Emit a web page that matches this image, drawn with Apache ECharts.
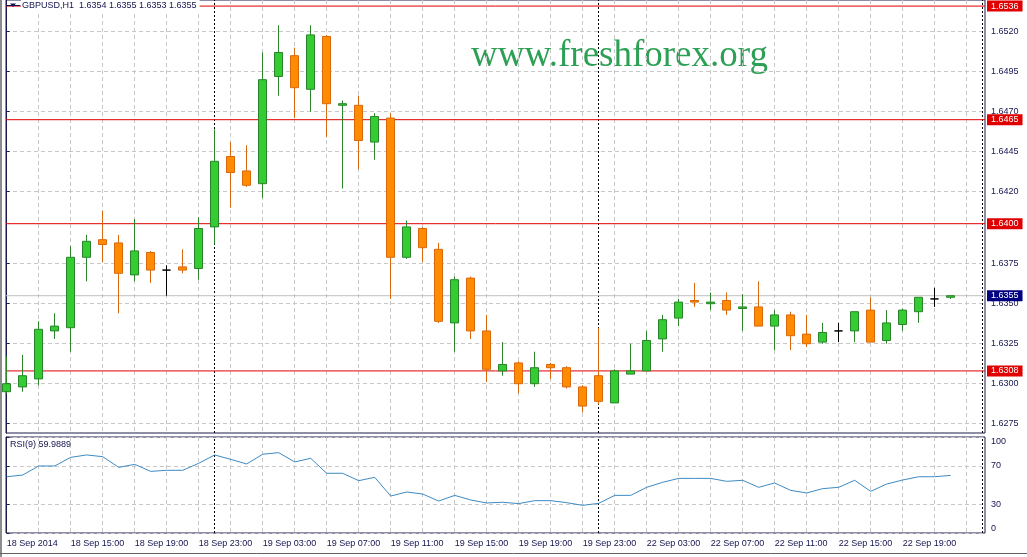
<!DOCTYPE html>
<html><head><meta charset="utf-8">
<script src="https://cdn.jsdelivr.net/npm/echarts@6.0.0/dist/echarts.min.js"></script>
<style>html,body{margin:0;padding:0;background:#fff}#c{width:1027px;height:557px}</style>
</head><body><div id="c"></div>
<script>
// ---- data (GBPUSD H1, bars 18 Sep 11:00 .. 22 Sep 22:00) ----
const opens  = [1.6295,1.6298,1.6303,1.6333,1.6335,1.6379,1.6390,1.6388,1.6368,1.6382,
                1.6371,1.6373,1.6372,1.6398,1.6442,1.6433,1.6425,1.6492,1.6505,1.6484,
                1.6517,1.6474,1.6474,1.6451,1.6466,1.6379,1.6397,1.6384,1.6338,1.6366,
                1.6333,1.6308,1.6313,1.6300,1.6312,1.6310,1.6298,1.6305,1.6288,1.6306,
                1.6308,1.6328,1.6341,1.6352,1.6350,1.6352,1.6347,1.6348,1.6336,1.6343,
                1.6331,1.6326,1.6333,1.6333,1.6346,1.6327,1.6337,1.6345,1.6353,1.6354];
const highs  = [1.6317,1.6318,1.6339,1.6344,1.6386,1.6393,1.6408,1.6393,1.6403,1.6383,
                1.6374,1.6384,1.6404,1.6459,1.6451,1.6449,1.6507,1.6524,1.6510,1.6524,
                1.6518,1.6477,1.6480,1.6469,1.6469,1.6402,1.6398,1.6388,1.6367,1.6367,
                1.6343,1.6326,1.6314,1.6320,1.6313,1.6311,1.6299,1.6335,1.6309,1.6325,
                1.6333,1.6343,1.6353,1.6363,1.6357,1.6357,1.6356,1.6364,1.6346,1.6345,
                1.6343,1.6338,1.6338,1.6345,1.6354,1.6346,1.6347,1.6354,1.6360,1.6355];
const lows   = [1.6294,1.6295,1.6299,1.6328,1.6320,1.6364,1.6376,1.6344,1.6364,1.6363,
                1.6355,1.6369,1.6365,1.6387,1.6410,1.6423,1.6416,1.6480,1.6466,1.6470,
                1.6454,1.6422,1.6434,1.6440,1.6353,1.6378,1.6376,1.6338,1.6320,1.6328,
                1.6301,1.6305,1.6294,1.6298,1.6303,1.6297,1.6282,1.6287,1.6288,1.6306,
                1.6308,1.6320,1.6336,1.6348,1.6346,1.6343,1.6333,1.6336,1.6321,1.6321,
                1.6323,1.6325,1.6326,1.6326,1.6326,1.6325,1.6333,1.6338,1.6348,1.6353];
const closes = [1.6300,1.6305,1.6334,1.6336,1.6379,1.6389,1.6387,1.6369,1.6383,1.6371,
                1.6371,1.6371,1.6397,1.6439,1.6432,1.6424,1.6490,1.6507,1.6485,1.6518,
                1.6475,1.6475,1.6452,1.6467,1.6379,1.6398,1.6385,1.6339,1.6365,1.6333,
                1.6309,1.6312,1.6300,1.6310,1.6310,1.6298,1.6286,1.6289,1.6308,1.6308,
                1.6327,1.6340,1.6351,1.6351,1.6351,1.6346,1.6348,1.6336,1.6343,1.6330,
                1.6325,1.6332,1.6333,1.6345,1.6326,1.6338,1.6346,1.6354,1.6353,1.6355];
const rsiValues = [58.6,60.4,69.8,69.8,78.8,81.3,79.5,68.4,71.5,64.2,
                   65.3,65.3,72.6,81.3,76.7,71.9,82.0,83.7,74.0,77.8,
                   62.2,62.2,54.5,58.0,38.5,42.7,40.6,33.3,39.2,34.4,
                   31.3,32.0,30.6,33.7,33.7,31.6,28.8,30.9,39.2,39.2,
                   47.6,52.8,56.9,56.9,56.9,53.8,54.9,47.6,52.1,44.4,
                   41.7,46.2,47.6,54.9,43.4,51.0,55.2,58.6,58.6,60.0];
const tickLabels = ['18 Sep 2014','18 Sep 15:00','18 Sep 19:00','18 Sep 23:00','19 Sep 03:00',
                    '19 Sep 07:00','19 Sep 11:00','19 Sep 15:00','19 Sep 19:00','19 Sep 23:00',
                    '22 Sep 03:00','22 Sep 07:00','22 Sep 11:00','22 Sep 15:00','22 Sep 19:00'];
const labelBars = [0,4,8,12,16,20,24,28,32,36,40,44,48,52,56];
const priceTicks = [1.6275,1.6300,1.6325,1.6350,1.6375,1.6420,1.6445,1.6470,1.6495,1.6520];
const rsiTicks = [0,30,70,100];
const levelPrices = [1.6536,1.6465,1.6400,1.6308];
const bidPrice = 1.6355;
const separatorBars = [13,37,61];
const headerText = 'GBPUSD,H1  1.6354 1.6355 1.6353 1.6355';
const rsiText = 'RSI(9) 59.9889';
const watermark = 'www.freshforex.org';

// ---- build ----
const candleData = opens.map((o,i)=>[i,o,closes[i],lows[i],highs[i]]);
const rsiData = rsiValues.map((v,i)=>[i,v]);
const evenBars = []; for (let i=2;i<=60;i+=2) evenBars.push(i);

const FONT='Liberation Sans', TXT='#141450', GRIDC='#c8c8c8', FRAME='#1c1c4c';
const XMIN=-0.04375, XMAX=61.14375;
const dash={color:GRIDC,type:[4,3],width:1};
const sepMark = () => ({silent:true,symbol:['none','none'],z:1,animation:false,precision:4,
          lineStyle:{color:'#000',type:[2,2],width:1}, label:{show:false},
          data:separatorBars.map(b=>({xAxis:b}))});
// horizontal price level drawn as a two-point line series across the x extent
const hLine = (p, lineColor, bg) => ({type:'line',xAxisIndex:0,yAxisIndex:0,z:1,silent:true,
          data:[[XMIN,p],[XMAX,p]], showSymbol:false, symbol:'none',
          lineStyle:{color:lineColor,width:1,type:'solid'}, itemStyle:{color:lineColor},
          emphasis:{disabled:true},
          endLabel:{show:true, distance:2, formatter:()=>p.toFixed(4), color:'#fff', backgroundColor:bg,
                    padding:[1,4,0,4], fontSize:9, fontFamily:FONT, lineHeight:10}});

const chart = echarts.init(document.getElementById('c'));
chart.setOption({
  animation:false, backgroundColor:'#fff',
  grid:[{left:6,right:42,top:0,height:433,show:true,borderColor:FRAME,borderWidth:1},
        {left:6,right:42,top:437,height:96,show:true,borderColor:FRAME,borderWidth:1}],
  xAxis:[
    {type:'value',gridIndex:0,min:XMIN,max:XMAX,axisLine:{show:false},
     axisTick:{show:false,customValues:evenBars},axisLabel:{show:false},splitLine:{show:true,lineStyle:dash}},
    {type:'value',gridIndex:1,min:XMIN,max:XMAX,axisLine:{show:false},
     axisTick:{show:false,customValues:evenBars},
     axisLabel:{customValues:labelBars,formatter:v=>{const k=labelBars.indexOf(Math.round(v));return k<0?'':tickLabels[k];},
                align:'left',margin:6,fontSize:9,fontFamily:FONT,color:TXT},
     splitLine:{show:true,lineStyle:dash}}
  ],
  yAxis:[
    {type:'value',gridIndex:0,position:'right',min:1.62692,max:1.65398,scale:true,
     axisLine:{show:true,lineStyle:{color:FRAME}},axisTick:{show:true,length:3,customValues:priceTicks,lineStyle:{color:FRAME}},
     axisLabel:{customValues:priceTicks,formatter:v=>v.toFixed(4),margin:6,fontSize:9,fontFamily:FONT,color:TXT},
     splitLine:{show:true,lineStyle:dash}},
    {type:'value',gridIndex:1,position:'right',min:0,max:100,
     axisLine:{show:true,lineStyle:{color:FRAME}},axisTick:{show:true,length:3,customValues:rsiTicks,lineStyle:{color:FRAME}},
     axisLabel:{customValues:rsiTicks,margin:6,fontSize:9,fontFamily:FONT,color:TXT,
                verticalAlignMinLabel:'bottom',verticalAlignMaxLabel:'top'},
     splitLine:{show:true,lineStyle:dash}}
  ],
  series:[
    hLine(bidPrice,'#c0c0c0','#000080'),
    ...levelPrices.map(p=>hLine(p,'#e00000','#e00000')),
    {type:'line',xAxisIndex:0,yAxisIndex:0,data:[],markLine:sepMark()},
    {type:'candlestick',xAxisIndex:0,yAxisIndex:0,data:candleData,encode:{x:0,y:[1,2,3,4]},
     barWidth:9,clip:true,
     itemStyle:{color:'#33cc33',color0:'#ff8c00',borderColor:'#2a852a',borderColor0:'#d9680f',borderColorDoji:'#000',borderWidth:1}},
    {type:'line',xAxisIndex:1,yAxisIndex:1,data:rsiData,showSymbol:false,symbol:'none',
     lineStyle:{color:'#3d8bc4',width:1},markLine:sepMark()}
  ],
  graphic:[
    {type:'rect',z:10,shape:{x:0,y:0,width:2,height:557},style:{fill:'#8c8c8c'}},
    {type:'line',z:10,shape:{x1:0,y1:553.5,x2:1027,y2:553.5},style:{stroke:'#606060',lineWidth:1}},
    {type:'text',z:0,x:471,y:56.5,style:{text:watermark,font:'37px "Liberation Serif"',fill:'#2da055',align:'left',verticalAlign:'middle'}},
    {type:'text',z:10,x:21,y:5.5,style:{text:headerText,font:'9px "Liberation Sans"',fill:TXT,align:'left',verticalAlign:'middle',backgroundColor:'#fff',padding:[1,3,1,1]}},
    {type:'line',z:10,shape:{x1:6,y1:5.5,x2:20,y2:5.5},style:{stroke:TXT,lineWidth:1}},
    {type:'polygon',z:11,shape:{points:[[10,3.5],[16,3.5],[13,7]]},style:{fill:TXT}},
    {type:'text',z:10,x:10,y:445,style:{text:rsiText,font:'9px "Liberation Sans"',fill:TXT,align:'left',verticalAlign:'middle'}}
  ]
});
</script></body></html>
